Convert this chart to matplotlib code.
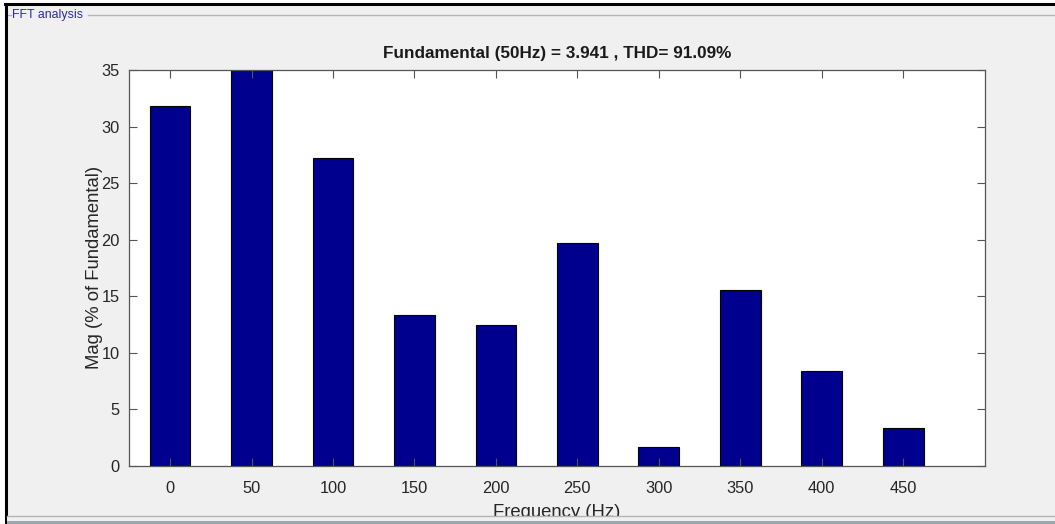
import matplotlib
matplotlib.use("Agg")
import matplotlib.pyplot as plt
from matplotlib.lines import Line2D
from matplotlib.patches import Rectangle

plt.rcParams['font.family'] = ['Liberation Sans', 'DejaVu Sans']

freqs = [0, 50, 100, 150, 200, 250, 300, 350, 400, 450]
mags = [31.8, 100.0, 27.2, 13.3, 12.4, 19.7, 1.6, 15.5, 8.4, 3.3]
yticks = [0, 5, 10, 15, 20, 25, 30, 35]
title = "Fundamental (50Hz) = 3.941 , THD= 91.09%"
xlabel = "Frequency (Hz)"
ylabel = "Mag (% of Fundamental)"
panel_label = "FFT analysis"

W, H = 1055, 524
fig = plt.figure(figsize=(W / 100, H / 100), dpi=100, facecolor='#f0f0f0')

def fx(px):
    return px / W

def fy(py):
    return 1 - py / H

ax = fig.add_axes([fx(129.3), fy(465.5), fx(984.7 - 129.3), (465.5 - 70) / H])
ax.set_facecolor('white')
ax.bar(freqs, mags, width=25, color='#00008f', edgecolor='black', linewidth=0.8)
ax.set_xlim(-25, 500)
ax.set_ylim(0, 35)
ax.set_xticks(freqs)
ax.set_yticks(yticks)
ax.tick_params(direction='in', length=6, width=0.8, color='#555555',
               labelcolor='#262626', labelsize=11.8, top=True, right=True)
ax.tick_params(axis='x', pad=11.5)
ax.tick_params(axis='y', pad=7)
for s in ax.spines.values():
    s.set_color('#555555')
    s.set_linewidth(0.9)
ax.set_title(title, fontsize=12.3, fontweight='bold', color='#1a1a1a', pad=8.5)
ax.set_ylabel(ylabel, fontsize=13.3, color='#262626', labelpad=-1)
ax.set_xlabel(xlabel, fontsize=13.3, color='#262626', labelpad=5.5)

# frame decorations
fig.add_artist(Rectangle((0, fy(3)), 1, fy(0) - fy(3), transform=fig.transFigure,
                         facecolor='white', edgecolor='none', zorder=0))
fig.add_artist(Rectangle((0, 0), fx(5), 1, transform=fig.transFigure,
                         facecolor='white', edgecolor='none', zorder=0))
fig.add_artist(Line2D([fx(5), 1], [fy(4), fy(4)], color='black', lw=2.2, zorder=5))
fig.add_artist(Line2D([fx(6), fx(6)], [fy(4), 0], color='black', lw=2.2, zorder=5))
fig.add_artist(Line2D([fx(8), fx(11)], [fy(14.5), fy(14.5)], color='#b4b4b4', lw=1.0))
fig.add_artist(Line2D([fx(88), 1], [fy(14.5), fy(14.5)], color='#b4b4b4', lw=1.0))
fig.text(fx(12), fy(15), panel_label, color='#2a2ab0', fontsize=8.9,
         va='center', ha='left')
fig.add_artist(Rectangle((fx(7), 0), 1, fy(515.5), transform=fig.transFigure,
                         facecolor='#f0f0f0', edgecolor='none', zorder=10))
fig.add_artist(Line2D([fx(7), 1], [fy(516), fy(516)], color='#b4b4b4', lw=1.0, zorder=11))
fig.add_artist(Rectangle((fx(7), 0), 1, fy(520.5), transform=fig.transFigure,
                         facecolor='#9aa8b0', edgecolor='none', zorder=11))

fig.savefig('out.png', dpi=100, facecolor=fig.get_facecolor())
